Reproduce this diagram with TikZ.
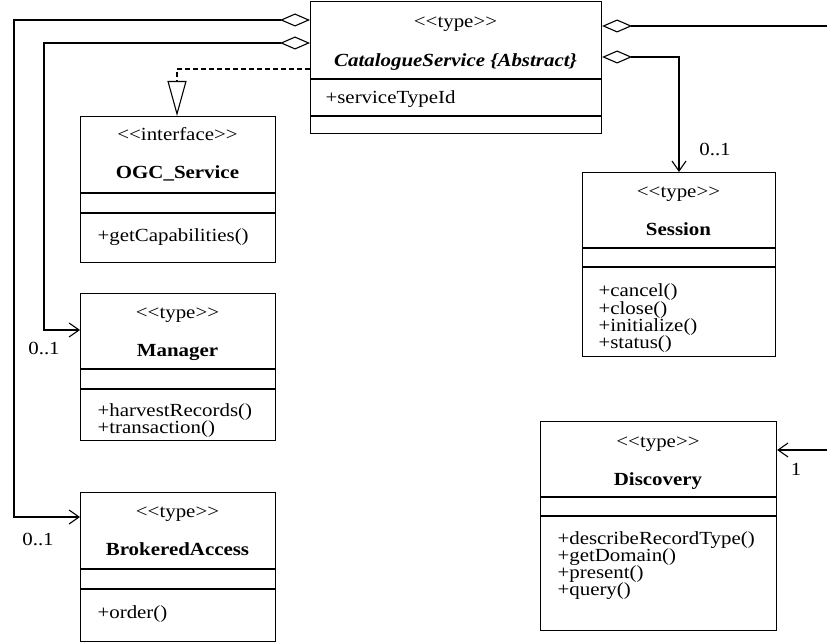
\documentclass[tikz,border=0pt]{standalone}
\usepackage{fontspec}
\setmainfont{Liberation Serif}[FakeStretch=1.13]
\usetikzlibrary{arrows.meta}

% UML class frame: name, left, top, right, bottom, first divider, second divider
\newcommand\umlframe[7]{%
  \node[classbox, minimum width={#4-#2}, minimum height={#5-#3}, anchor=north west] (#1) at (#2,#3) {};
  \draw (#2,#6) -- (#4,#6);
  \draw (#2,#7) -- (#4,#7);
}
\newcommand\stype[1]{<\kern0pt<#1>\kern0pt>}

\begin{document}
\begin{tikzpicture}[x=1pt, y=-1pt, line width=1.1pt,
  every node/.style={inner sep=0pt, font=\fontsize{18.5}{17}\selectfont},
  classbox/.style={draw, rectangle, fill=white},
  ctext/.style={anchor=base},
  ltext/.style={anchor=base west},
  aggr/.style={{Diamond[open, length=30pt, width=13pt]}-},
  navi/.style={-{Straight Barb[length=10pt, width=14pt]}},
  aggnav/.style={{Diamond[open, length=30pt, width=13pt]}-{Straight Barb[length=10pt, width=14pt]}},
  realize/.style={dashed, dash pattern=on 5pt off 3pt, -{Triangle[open, length=35pt, width=19pt]}},
  mult/.style={anchor=base}]
\useasboundingbox[fill=white] (0,0) rectangle (827,644);

% CatalogueService
\umlframe{cs}{310}{1}{601}{133}{79}{116}
\node[ctext] (cs-st) at (455.5,28) {\stype{type}};
\node[ctext] (cs-nm) at (455.5,67) {\textbf{\textit{CatalogueService \{Abstract\}}}};
\node[ltext] (cs-a1) at (325,104) {+serviceTypeId};

% OGC_Service
\umlframe{ogc}{80}{116}{275}{262}{193}{213}
\node[ctext] (ogc-st) at (177.5,141) {\stype{interface}};
\node[ctext] (ogc-nm) at (177.5,179) {\textbf{OGC\_Service}};
\node[ltext] (ogc-o1) at (97,242) {+getCapabilities()};

% Manager
\umlframe{mgr}{80}{293}{275}{440}{369}{389}
\node[ctext] (mgr-st) at (177.5,318) {\stype{type}};
\node[ctext] (mgr-nm) at (177.5,356) {\textbf{Manager}};
\node[ltext] (mgr-o1) at (97,416) {+harvestRecords()};
\node[ltext] (mgr-o2) at (97,433) {+transaction()};

% BrokeredAccess
\umlframe{bra}{80}{492}{275}{641}{569}{589}
\node[ctext] (bra-st) at (177.5,517) {\stype{type}};
\node[ctext] (bra-nm) at (177.5,555) {\textbf{BrokeredAccess}};
\node[ltext] (bra-o1) at (97,618) {+order()};

% Session
\umlframe{ses}{582}{172}{775}{356}{248}{267}
\node[ctext] (ses-st) at (678.5,198) {\stype{type}};
\node[ctext] (ses-nm) at (678.5,236) {\textbf{Session}};
\node[ltext] (ses-o1) at (598,297) {+cancel()};
\node[ltext] (ses-o2) at (598,314) {+close()};
\node[ltext] (ses-o3) at (598,331) {+initialize()};
\node[ltext] (ses-o4) at (598,348) {+status()};

% Discovery
\umlframe{dis}{540}{421}{776}{630}{497}{516}
\node[ctext] (dis-st) at (658,447) {\stype{type}};
\node[ctext] (dis-nm) at (658,485) {\textbf{Discovery}};
\node[ltext] (dis-o1) at (557,544) {+describeRecordType()};
\node[ltext] (dis-o2) at (557,561) {+getDomain()};
\node[ltext] (dis-o3) at (557,578) {+present()};
\node[ltext] (dis-o4) at (557,595) {+query()};

% loose ends running off to the right
\coordinate (east1) at (827,26);
\coordinate (east2) at (827,450);

% connectors
\draw[aggnav] (cs.west |- 0,20) -| (14,517) -- (bra.west |- 0,517);
\draw[aggnav] (cs.west |- 0,43) -| (44,330) -- (mgr.west |- 0,330);
\draw[realize] (cs.west |- 0,69) -| (ogc.north -| 177,0);
\draw[aggr] (cs.east |- 0,26) -- (east1);
\draw[aggnav] (cs.east |- 0,57) -| (ses.north -| 679,0);
\draw[navi] (east2) -- (dis.east |- 0,450);

% multiplicities
\node[mult] (m-mgr) at (44,354) {0..1};
\node[mult] (m-bra) at (38,545) {0..1};
\node[mult] (m-ses) at (715,156) {0..1};
\node[mult] (m-dis) at (796,475) {1};
\end{tikzpicture}
\end{document}
